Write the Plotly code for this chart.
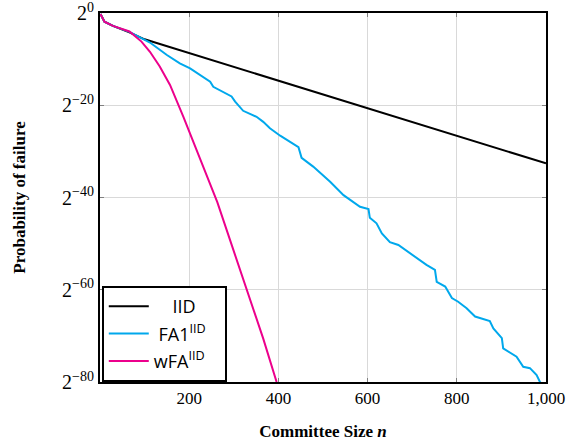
import plotly.graph_objects as go

# Committee sizes and log2 probability of failure
iid_n = [1, 10, 29, 50, 66, 100, 200, 400, 600, 800, 1000]
iid_v = [-0.2, -1.9, -2.8, -3.6, -4.2, -5.7, -8.7, -14.7, -20.6, -26.6, -32.6]

fa1_n = [1, 10, 29, 66, 112, 145, 150, 179, 202, 247, 254, 295, 303, 321, 351, 366,
         381, 404, 445, 452, 478, 516, 546, 583, 602, 605, 620, 632, 650, 669, 695,
         717, 732, 751, 755, 774, 789, 803, 822, 841, 874, 882, 901, 904, 934, 949,
         964, 979, 987, 1000]
fa1_v = [-0.2, -1.9, -2.8, -4.1, -6.4, -8.7, -9.1, -10.9, -12.0, -14.9, -16.0, -18.1,
         -19.2, -21.2, -22.5, -23.6, -25.0, -26.6, -29.1, -31.4, -33.3, -36.6, -39.5,
         -42.0, -42.5, -44.4, -45.6, -47.8, -49.7, -50.3, -52.1, -53.6, -54.6, -55.7,
         -58.3, -59.3, -61.8, -62.6, -64.0, -65.8, -66.8, -68.4, -70.5, -72.7, -74.5,
         -76.7, -77.0, -78.5, -80.1, -80.8]

wfa_n = [1, 10, 29, 66, 93, 112, 134, 157, 187, 209, 239, 263, 296, 330, 366, 396, 400]
wfa_v = [-0.2, -1.9, -2.8, -4.0, -6.2, -8.4, -11.6, -15.6, -22.5, -27.8, -35.3, -41.0,
         -50.5, -60.5, -70.6, -80.0, -81.0]

x_ticks = [200, 400, 600, 800, 1000]
x_labels = ["200", "400", "600", "800", "1,000"]
y_ticks = [0, -20, -40, -60, -80]
y_labels = ["2<sup>0</sup>", "2<sup>\u221220</sup>", "2<sup>\u221240</sup>",
            "2<sup>\u221260</sup>", "2<sup>\u221280</sup>"]

serif = "Liberation Serif, DejaVu Serif, serif"
sans = "Open Sans, Lato, DejaVu Sans, sans-serif"

fig = go.Figure()
fig.add_trace(go.Scatter(x=iid_n, y=iid_v, mode="lines",
                         name="&#160;&#160;&#160;&#160;IID&#160;&#160;&#160;&#160;&#160;",
                         legendgroup="a", line=dict(color="black", width=2)))
fig.add_trace(go.Scatter(x=fa1_n, y=fa1_v, mode="lines",
                         name="&#160;FA1<sup>IID</sup>",
                         legendgroup="b", line=dict(color="#00A8EC", width=2)))
fig.add_trace(go.Scatter(x=wfa_n, y=wfa_v, mode="lines",
                         name="wFA<sup>IID</sup>",
                         legendgroup="c", line=dict(color="#EC008C", width=2)))

axis_common = dict(showline=True, linecolor="black", linewidth=2, mirror="allticks",
                   ticks="inside", ticklen=4, tickcolor="#808080", tickwidth=1,
                   showgrid=True, gridcolor="#d9d9d9", gridwidth=1, zeroline=False,
                   automargin=False, ticklabeloverflow="allow")

fig.update_layout(
    width=568, height=446,
    margin=dict(l=100, r=22, t=13, b=64),
    paper_bgcolor="white", plot_bgcolor="white",
    showlegend=True,
    legend=dict(x=0.004, y=0, xanchor="left", yanchor="bottom",
                bgcolor="white", bordercolor="black", borderwidth=2,
                font=dict(family=sans, size=18, color="black"),
                itemwidth=40, tracegroupgap=1),
    xaxis=dict(range=[0, 1000], tickvals=x_ticks, ticktext=x_labels,
               tickfont=dict(family=serif, size=17, color="black"),
               title=dict(text="<b>Committee Size <i>n</i></b>",
                          font=dict(family=serif, size=17, color="black"), standoff=18),
               **axis_common),
    yaxis=dict(range=[-80, 0], tickvals=y_ticks, ticktext=y_labels,
               tickfont=dict(family=serif, size=20, color="black"),
               title=dict(text="<b>Probability of failure</b>",
                          font=dict(family=serif, size=17, color="black"), standoff=32),
               **axis_common),
)

fig.write_html("out.html", config={"displayModeBar": False},
               post_script="document.body.style.margin='0';"
                           "document.documentElement.style.overflow='hidden';")
